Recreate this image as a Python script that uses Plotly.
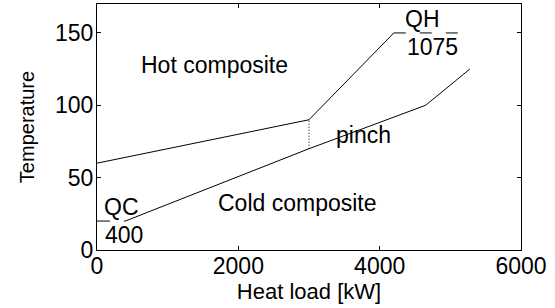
import plotly.graph_objects as go

# Data
hot_x = [0, 3000, 4200]
hot_y = [60, 90, 150]
cold_x = [400, 3000, 4650, 5275]
cold_y = [20, 70, 100, 125]
qh_x = [4200, 5275]
qh_y = [150, 150]
qc_x = [0, 400]
qc_y = [20, 20]
pinch_x = [3000, 3000]
pinch_y = [70, 90]

x_ticks = [0, 2000, 4000, 6000]
y_ticks = [0, 50, 100, 150]

labels = [
    ("Hot composite", 1656, 128),
    ("Cold composite", 2844, 32.5),
    ("pinch", 3771, 79.5),
    ("QH", 4599, 159.5),
    ("1075", 4747, 140),
    ("QC", 340, 30),
    ("400", 375, 10.5),
]

FONT = "Liberation Sans, Arial, Helvetica, sans-serif"
line = dict(color="black", width=1)

fig = go.Figure()
fig.add_trace(go.Scatter(x=hot_x, y=hot_y, mode="lines", line=line))
fig.add_trace(go.Scatter(x=cold_x, y=cold_y, mode="lines", line=line))
fig.add_trace(go.Scatter(x=qh_x, y=qh_y, mode="lines",
                         line=dict(color="black", width=1, dash="12px,14px")))
fig.add_trace(go.Scatter(x=qc_x, y=qc_y, mode="lines",
                         line=dict(color="black", width=1, dash="13px,14px")))
fig.add_trace(go.Scatter(x=pinch_x, y=pinch_y, mode="lines",
                         line=dict(color="black", width=1, dash="1px,2px")))

for txt, x, y in labels:
    fig.add_annotation(x=x, y=y, text=txt, showarrow=False,
                       xanchor="center", yanchor="middle",
                       font=dict(family=FONT, size=23, color="black"))

axis_common = dict(
    showline=True, linecolor="black", linewidth=1, mirror="ticks",
    ticks="inside", ticklen=4, tickcolor="black", tickwidth=1,
    showgrid=False, zeroline=False, automargin=False,
    tickfont=dict(family=FONT, size=23, color="black"),
)

fig.update_layout(
    width=555, height=308,
    margin=dict(l=97, r=34, t=4, b=58),
    paper_bgcolor="white", plot_bgcolor="white",
    showlegend=False,
    xaxis=dict(range=[0, 6000], tickvals=x_ticks, ticktext=[str(v) for v in x_ticks],
               ticklabelstandoff=-5,
               title=dict(text="Heat load [kW]", font=dict(family=FONT, size=22, color="black"),
                          standoff=0),
               **axis_common),
    yaxis=dict(range=[0, 170], tickvals=y_ticks, ticktext=[str(v) for v in y_ticks],
               ticklabelstandoff=-2,
               title=dict(text="Temperature", font=dict(family=FONT, size=20, color="black"),
                          standoff=15),
               **axis_common),
)

fig.write_html("out.html", config={"displayModeBar": False},
               post_script="document.body.style.margin='0';")
